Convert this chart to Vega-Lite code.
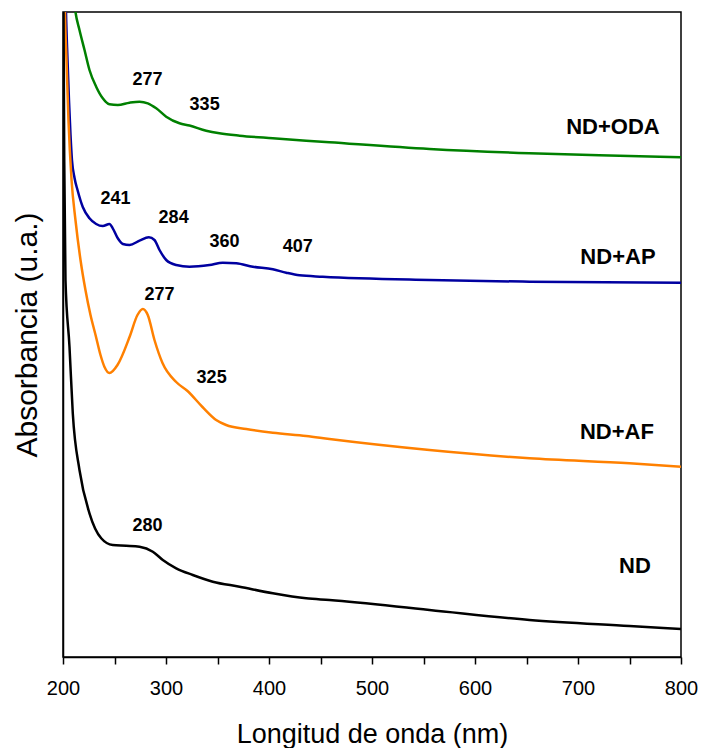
{
  "$schema": "https://vega.github.io/schema/vega-lite/v6.json",
  "width": 618,
  "height": 645,
  "autosize": "none",
  "padding": {"left": 63, "top": 12, "right": 20, "bottom": 91},
  "background": "white",
  "config": {
    "font": "Liberation Sans",
    "view": {"stroke": "black", "strokeWidth": 1.5},
    "axis": {"grid": false, "domainColor": "black", "domainWidth": 1.5, "tickColor": "black", "labelColor": "black", "titleColor": "black", "titleFontWeight": "normal", "labelFont": "Liberation Sans", "titleFont": "Liberation Sans"}
  },
  "datasets": {
    "spectra": [
      {"series": "ND+ODA", "nm": 208, "abs": 685},
      {"series": "ND+ODA", "nm": 212.1, "abs": 645},
      {"series": "ND+ODA", "nm": 216.0, "abs": 627},
      {"series": "ND+ODA", "nm": 220.9, "abs": 607},
      {"series": "ND+ODA", "nm": 225.7, "abs": 587},
      {"series": "ND+ODA", "nm": 232.2, "abs": 570.3},
      {"series": "ND+ODA", "nm": 238.6, "abs": 558.7},
      {"series": "ND+ODA", "nm": 245.1, "abs": 552.7},
      {"series": "ND+ODA", "nm": 253.2, "abs": 552},
      {"series": "ND+ODA", "nm": 264.6, "abs": 554.3},
      {"series": "ND+ODA", "nm": 274.3, "abs": 555.3},
      {"series": "ND+ODA", "nm": 282.3, "abs": 553.7},
      {"series": "ND+ODA", "nm": 290.5, "abs": 548.7},
      {"series": "ND+ODA", "nm": 300.2, "abs": 540.3},
      {"series": "ND+ODA", "nm": 313.1, "abs": 533.7},
      {"series": "ND+ODA", "nm": 322.8, "abs": 531.5},
      {"series": "ND+ODA", "nm": 339.0, "abs": 526.3},
      {"series": "ND+ODA", "nm": 351.9, "abs": 523.7},
      {"series": "ND+ODA", "nm": 371.4, "abs": 521.3},
      {"series": "ND+ODA", "nm": 403.7, "abs": 518.7},
      {"series": "ND+ODA", "nm": 436.1, "abs": 516.3},
      {"series": "ND+ODA", "nm": 458.7, "abs": 514.7},
      {"series": "ND+ODA", "nm": 555.8, "abs": 508},
      {"series": "ND+ODA", "nm": 652.9, "abs": 503.7},
      {"series": "ND+ODA", "nm": 750.0, "abs": 501},
      {"series": "ND+ODA", "nm": 800, "abs": 499.7},

      {"series": "ND+AP", "nm": 202.0, "abs": 690},
      {"series": "ND+AP", "nm": 202.9, "abs": 645},
      {"series": "ND+AP", "nm": 204.4, "abs": 597},
      {"series": "ND+AP", "nm": 205.8, "abs": 557},
      {"series": "ND+AP", "nm": 207.3, "abs": 522},
      {"series": "ND+AP", "nm": 208.7, "abs": 497},
      {"series": "ND+AP", "nm": 211.2, "abs": 479},
      {"series": "ND+AP", "nm": 214.1, "abs": 467},
      {"series": "ND+AP", "nm": 219.2, "abs": 450},
      {"series": "ND+AP", "nm": 225.7, "abs": 438.7},
      {"series": "ND+AP", "nm": 232.2, "abs": 433},
      {"series": "ND+AP", "nm": 238.6, "abs": 431},
      {"series": "ND+AP", "nm": 245.1, "abs": 433},
      {"series": "ND+AP", "nm": 248.3, "abs": 428.7},
      {"series": "ND+AP", "nm": 253.2, "abs": 418.7},
      {"series": "ND+AP", "nm": 258.1, "abs": 413},
      {"series": "ND+AP", "nm": 264.6, "abs": 412},
      {"series": "ND+AP", "nm": 274.3, "abs": 416.3},
      {"series": "ND+AP", "nm": 283.3, "abs": 419.7},
      {"series": "ND+AP", "nm": 288.8, "abs": 417},
      {"series": "ND+AP", "nm": 293.7, "abs": 407},
      {"series": "ND+AP", "nm": 300.2, "abs": 397},
      {"series": "ND+AP", "nm": 309.9, "abs": 392},
      {"series": "ND+AP", "nm": 322.8, "abs": 390.3},
      {"series": "ND+AP", "nm": 342.2, "abs": 392},
      {"series": "ND+AP", "nm": 355.1, "abs": 394.3},
      {"series": "ND+AP", "nm": 368.2, "abs": 393.7},
      {"series": "ND+AP", "nm": 384.3, "abs": 390.3},
      {"series": "ND+AP", "nm": 403.7, "abs": 387.7},
      {"series": "ND+AP", "nm": 416.7, "abs": 384.3},
      {"series": "ND+AP", "nm": 429.6, "abs": 381.7},
      {"series": "ND+AP", "nm": 452.2, "abs": 380.3},
      {"series": "ND+AP", "nm": 555.8, "abs": 377},
      {"series": "ND+AP", "nm": 652.9, "abs": 375.3},
      {"series": "ND+AP", "nm": 800, "abs": 374.3},

      {"series": "ND+AF", "nm": 201.2, "abs": 690},
      {"series": "ND+AF", "nm": 201.9, "abs": 645},
      {"series": "ND+AF", "nm": 203.4, "abs": 597},
      {"series": "ND+AF", "nm": 205.3, "abs": 537},
      {"series": "ND+AF", "nm": 208.3, "abs": 477},
      {"series": "ND+AF", "nm": 212.1, "abs": 437},
      {"series": "ND+AF", "nm": 217.0, "abs": 397},
      {"series": "ND+AF", "nm": 221.8, "abs": 367},
      {"series": "ND+AF", "nm": 226.7, "abs": 342},
      {"series": "ND+AF", "nm": 231.6, "abs": 322},
      {"series": "ND+AF", "nm": 236.4, "abs": 302},
      {"series": "ND+AF", "nm": 240.3, "abs": 290},
      {"series": "ND+AF", "nm": 245.1, "abs": 284},
      {"series": "ND+AF", "nm": 252.9, "abs": 292},
      {"series": "ND+AF", "nm": 264.6, "abs": 320},
      {"series": "ND+AF", "nm": 272.3, "abs": 342},
      {"series": "ND+AF", "nm": 277.5, "abs": 348},
      {"series": "ND+AF", "nm": 282.3, "abs": 342},
      {"series": "ND+AF", "nm": 288.8, "abs": 317},
      {"series": "ND+AF", "nm": 296.6, "abs": 294},
      {"series": "ND+AF", "nm": 309.9, "abs": 275},
      {"series": "ND+AF", "nm": 320.9, "abs": 266},
      {"series": "ND+AF", "nm": 335.4, "abs": 250},
      {"series": "ND+AF", "nm": 348.7, "abs": 237},
      {"series": "ND+AF", "nm": 358.4, "abs": 232},
      {"series": "ND+AF", "nm": 377.9, "abs": 228},
      {"series": "ND+AF", "nm": 403.7, "abs": 224.3},
      {"series": "ND+AF", "nm": 436.1, "abs": 221},
      {"series": "ND+AF", "nm": 458.7, "abs": 218},
      {"series": "ND+AF", "nm": 555.8, "abs": 207},
      {"series": "ND+AF", "nm": 652.9, "abs": 198.7},
      {"series": "ND+AF", "nm": 750, "abs": 193.7},
      {"series": "ND+AF", "nm": 800, "abs": 190.3},

      {"series": "ND", "nm": 200.3, "abs": 700},
      {"series": "ND", "nm": 200.5, "abs": 645},
      {"series": "ND", "nm": 201.2, "abs": 497},
      {"series": "ND", "nm": 202.4, "abs": 377},
      {"series": "ND", "nm": 206.3, "abs": 310.3},
      {"series": "ND", "nm": 209.5, "abs": 243.7},
      {"series": "ND", "nm": 216.0, "abs": 187},
      {"series": "ND", "nm": 225.7, "abs": 143.7},
      {"series": "ND", "nm": 237.1, "abs": 118.7},
      {"series": "ND", "nm": 248.3, "abs": 112},
      {"series": "ND", "nm": 261.4, "abs": 111.3},
      {"series": "ND", "nm": 274.3, "abs": 110.3},
      {"series": "ND", "nm": 287.2, "abs": 105.3},
      {"series": "ND", "nm": 296.9, "abs": 97},
      {"series": "ND", "nm": 309.9, "abs": 88.7},
      {"series": "ND", "nm": 326.0, "abs": 82},
      {"series": "ND", "nm": 345.4, "abs": 75.3},
      {"series": "ND", "nm": 371.4, "abs": 70.3},
      {"series": "ND", "nm": 403.7, "abs": 63.7},
      {"series": "ND", "nm": 436.1, "abs": 58.7},
      {"series": "ND", "nm": 458.7, "abs": 57},
      {"series": "ND", "nm": 555.8, "abs": 47},
      {"series": "ND", "nm": 652.9, "abs": 37},
      {"series": "ND", "nm": 750, "abs": 31},
      {"series": "ND", "nm": 800, "abs": 28}
    ],
    "names": [
      {"label": "ND+ODA", "nm": 733.9, "abs": 530},
      {"label": "ND+AP", "nm": 738.8, "abs": 400},
      {"label": "ND+AF", "nm": 737.8, "abs": 225},
      {"label": "ND", "nm": 755.3, "abs": 91}
    ],
    "peaks": [
      {"label": "277", "nm": 282.1, "abs": 577},
      {"label": "335", "nm": 337.5, "abs": 552},
      {"label": "241", "nm": 251.0, "abs": 458},
      {"label": "284", "nm": 307.4, "abs": 439},
      {"label": "360", "nm": 356.9, "abs": 415},
      {"label": "407", "nm": 427.9, "abs": 410},
      {"label": "277", "nm": 293.8, "abs": 362},
      {"label": "325", "nm": 344.3, "abs": 279},
      {"label": "280", "nm": 282.1, "abs": 131}
    ]
  },
  "layer": [
    {
      "data": {"name": "spectra"},
      "mark": {"type": "line", "strokeWidth": 2.5, "clip": true, "interpolate": "monotone"},
      "encoding": {
        "x": {
          "field": "nm", "type": "quantitative",
          "scale": {"domain": [200, 800], "nice": false, "zero": false},
          "axis": {
            "title": "Longitud de onda (nm)",
            "titleFontSize": 27,
            "titlePadding": 23,
            "values": [200, 250, 300, 350, 400, 450, 500, 550, 600, 650, 700, 750, 800],
            "labelExpr": "datum.value % 100 === 0 ? datum.label : ''",
            "labelFontSize": 20,
            "labelPadding": 14,
            "tickSize": 7,
            "tickWidth": 1.5,
            "labelFlush": false,
            "labelOverlap": false
          }
        },
        "y": {
          "field": "abs", "type": "quantitative",
          "scale": {"domain": [0, 645], "nice": false, "zero": false},
          "axis": {
            "title": "Absorbancia (u.a.)",
            "titleFontSize": 30,
            "titlePadding": 21,
            "labels": false,
            "ticks": false
          }
        },
        "color": {
          "field": "series", "type": "nominal",
          "scale": {"domain": ["ND+ODA", "ND+AP", "ND+AF", "ND"], "range": ["#008000", "#0000a0", "#ff8000", "#000000"]},
          "legend": null
        },
        "detail": {"field": "series"}
      }
    },
    {
      "data": {"name": "names"},
      "mark": {"type": "text", "font": "Liberation Sans", "fontWeight": "bold", "fontSize": 22, "color": "black", "align": "center", "baseline": "middle"},
      "encoding": {
        "x": {"field": "nm", "type": "quantitative"},
        "y": {"field": "abs", "type": "quantitative"},
        "text": {"field": "label"}
      }
    },
    {
      "data": {"name": "peaks"},
      "mark": {"type": "text", "font": "Liberation Sans", "fontWeight": "bold", "fontSize": 18, "color": "black", "align": "center", "baseline": "middle"},
      "encoding": {
        "x": {"field": "nm", "type": "quantitative"},
        "y": {"field": "abs", "type": "quantitative"},
        "text": {"field": "label"}
      }
    }
  ]
}
